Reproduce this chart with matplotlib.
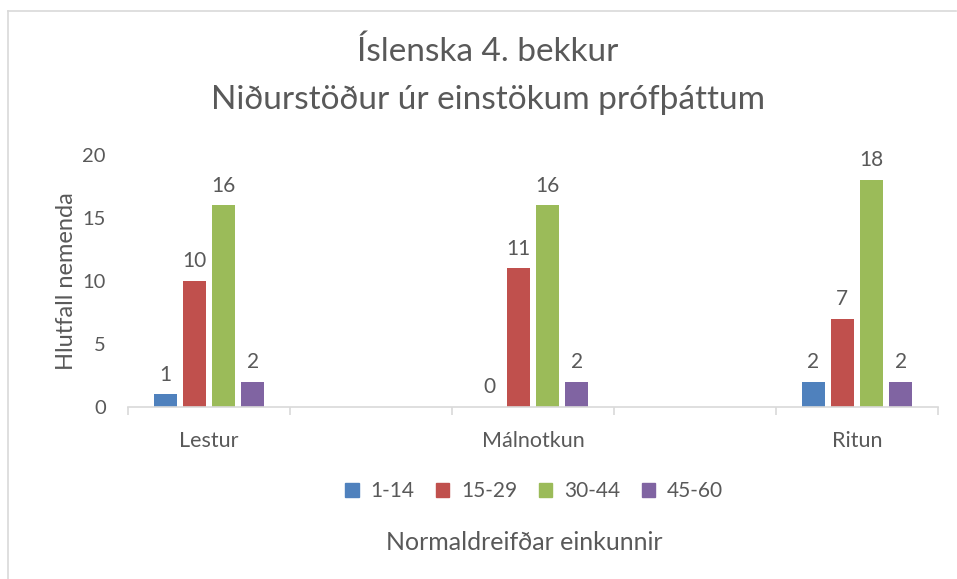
import numpy as np
import matplotlib.pyplot as plt
from matplotlib.lines import Line2D
from matplotlib.patches import Patch

plt.rcParams['font.family'] = ['Lato', 'DejaVu Sans']

# Data (blank categories keep the wide spacing seen in the chart)
categories = ["Lestur", "", "Málnotkun", "", "Ritun"]
series_names = ["1-14", "15-29", "30-44", "45-60"]
v_1_14 = [1, np.nan, 0, np.nan, 2]
v_15_29 = [10, np.nan, 11, np.nan, 7]
v_30_44 = [16, np.nan, 16, np.nan, 18]
v_45_60 = [2, np.nan, 2, np.nan, 2]
y_ticks = [0, 5, 10, 15, 20]

colors = ["#4F81BD", "#C0504D", "#9BBB59", "#8064A2"]
text_col = "#595959"
grid_col = "#D9D9D9"

fig = plt.figure(figsize=(9.57, 5.79), dpi=100)
ax = fig.add_axes([128 / 957, 1 - 407 / 579, 810 / 957, 252 / 579])

x = np.arange(len(categories))
width = 0.142
step = 0.181
all_series = [v_1_14, v_15_29, v_30_44, v_45_60]
for i, vals in enumerate(all_series):
    offs = (i - 1.5) * step
    ax.bar(x + offs, vals, width=width, color=colors[i], label=series_names[i])
    for xi, v in zip(x, vals):
        if np.isnan(v):
            continue
        ax.annotate(f"{v:g}", (xi + offs, v), xytext=(0, 7), textcoords="offset points",
                    ha="center", va="bottom", fontsize=15, color=text_col)

ax.set_xlim(-0.5, len(categories) - 0.5)
ax.set_ylim(0, 20)
ax.set_yticks(y_ticks)
ax.set_yticklabels([str(t) for t in y_ticks], fontsize=14.5, color=text_col)
ax.tick_params(axis='y', length=0, pad=16)

# category ticks at the boundaries, labels in the middle
ax.set_xticks(np.arange(-0.5, len(categories)), minor=False)
ax.set_xticklabels([])
ax.set_xticks(x, minor=True)
ax.set_xticklabels(categories, minor=True, fontsize=15.5, color=text_col)
ax.tick_params(axis='x', which='major', length=6, color=grid_col, width=1.2)
ax.tick_params(axis='x', which='minor', length=0, pad=17)

for s in ["top", "right", "left"]:
    ax.spines[s].set_visible(False)
ax.spines["bottom"].set_color(grid_col)
ax.spines["bottom"].set_linewidth(1.2)

ax.set_ylabel("Hlutfall nemenda", fontsize=17, color=text_col, labelpad=4)

fig.text(488 / 957, 1 - 52 / 579, "Íslenska 4. bekkur", ha="center", va="center",
         fontsize=24, color=text_col)
fig.text(488 / 957, 1 - 100 / 579, "Niðurstöður úr einstökum prófþáttum", ha="center",
         va="center", fontsize=24, color=text_col)

handles = [Patch(color=c) for c in colors]
fig.legend(handles, series_names, loc="center", bbox_to_anchor=(534 / 957, 1 - 491 / 579),
           ncol=4, frameon=False, fontsize=15, handlelength=0.65, handleheight=0.65,
           handletextpad=0.55, columnspacing=1.05, labelcolor=text_col)

fig.text(524 / 957, 1 - 543 / 579, "Normaldreifðar einkunnir", ha="center", va="center",
         fontsize=18, color=text_col)

# outer chart frame (left and top edges visible)
fig.add_artist(Line2D([8 / 957, 8 / 957], [0, 1 - 11 / 579], transform=fig.transFigure,
                      color=grid_col, lw=1.2))
fig.add_artist(Line2D([8 / 957, 956 / 957], [1 - 11 / 579, 1 - 11 / 579],
                      transform=fig.transFigure, color=grid_col, lw=1.2))

fig.savefig("out.png", dpi=100)
